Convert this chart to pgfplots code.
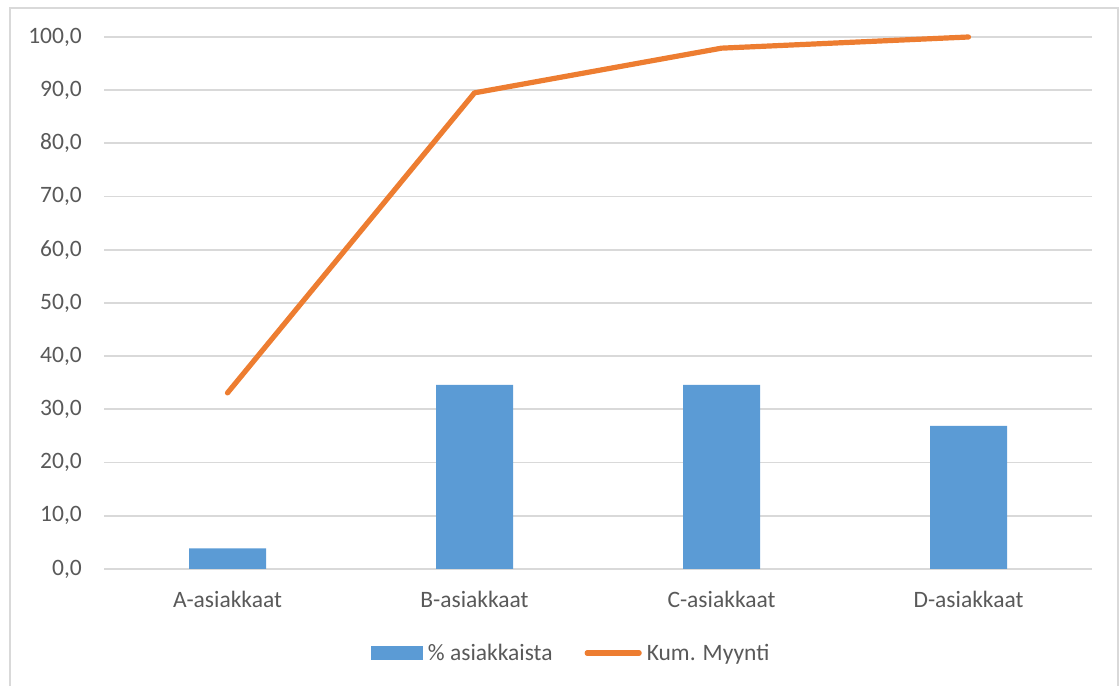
\documentclass[border=0pt]{standalone}
\usepackage{pgfplots}
\pgfplotsset{compat=1.18}
\usepackage{fontspec}
\setmainfont{Carlito}
\definecolor{barblue}{RGB}{91,155,213}
\definecolor{lineorange}{RGB}{237,125,49}
\definecolor{gridgray}{RGB}{217,217,217}
\definecolor{txtgray}{RGB}{89,89,89}
\definecolor{bordergray}{RGB}{217,217,217}
\begin{document}
\begin{tikzpicture}
\path[use as bounding box] (0,0) rectangle (1120bp,686bp);
\draw[bordergray, line width=1.5bp] (10bp,-10bp) rectangle (1118bp,678bp);
\begin{axis}[
  at={(104bp,117bp)}, anchor=south west,
  scale only axis, width=988bp, height=532bp,
  xmin=-0.5, xmax=3.5, ymin=0, ymax=100,
  xtick={0,1,2,3},
  xticklabels={A-asiakkaat,B-asiakkaat,C-asiakkaat,D-asiakkaat},
  ytick={0,10,...,100},
  axis line style={draw=none},
  major tick length=0pt,
  ymajorgrids,
  grid style={gridgray, line width=1.8bp},
  tick label style={font=\fontsize{23.5bp}{28bp}\selectfont, text=txtgray},
  yticklabel style={inner sep=0pt, xshift=-22bp},
  xticklabel style={inner sep=0pt, yshift=-22bp},
  /pgf/number format/assume math mode=true,
  yticklabel={\pgfmathprintnumber[fixed, fixed zerofill, precision=1, use comma]{\tick}},
  clip=false,
  legend style={draw=none, fill=none, at={(0.267,-0.158)}, anchor=west,
    legend columns=2,
    font=\fontsize{23.5bp}{28bp}\selectfont, text=txtgray,
    nodes={inner sep=0pt},
    /tikz/every odd column/.append style={column sep=5bp},
    /tikz/every even column/.append style={column sep=32bp}},
]
\addplot[ybar, bar width=77bp, fill=barblue, draw=none,
  legend image code/.code={\fill[barblue] (0bp,-7bp) rectangle (52bp,7bp);}]
  coordinates {(0,3.9) (1,34.6) (2,34.6) (3,26.9)};
\addlegendentry{\% asiakkaista}
\addplot[lineorange, line width=5.2bp, line cap=round, line join=round, mark=none,
  legend image code/.code={\draw[lineorange, line width=5.2bp, line cap=round] (2bp,0) -- (54bp,0);}]
  coordinates {(0,33.1) (1,89.5) (2,97.9) (3,100)};
\addlegendentry{Kum. Myynti}
\end{axis}
\end{tikzpicture}
\end{document}
